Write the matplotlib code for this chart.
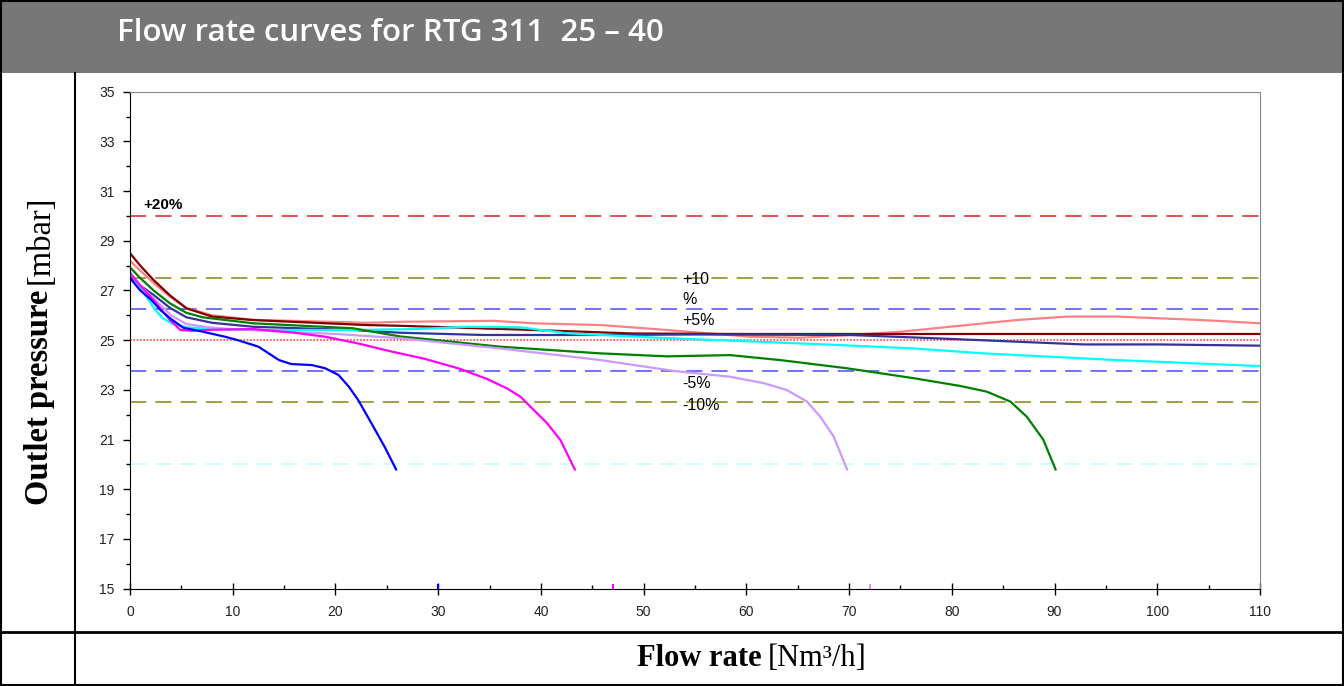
import matplotlib
matplotlib.use("Agg")
import matplotlib.pyplot as plt
from matplotlib.patches import Rectangle
from matplotlib.lines import Line2D
from matplotlib.ticker import MultipleLocator, FixedLocator

# curves (flow rate Nm3/h, outlet pressure mbar)
blue_x = [0, 1, 2, 3, 4, 5.2, 7, 9.25, 10.5, 12.5, 14.5, 15.7, 17.7, 19, 20.3, 21.3, 22.2, 23.5, 24.8, 25.9]
blue_y = [27.5, 27.0, 26.65, 26.2, 25.85, 25.5, 25.35, 25.14, 25.0, 24.74, 24.2, 24.04, 24.0, 23.87, 23.6,
          23.13, 22.6, 21.66, 20.7, 19.8]

magenta_x = [0, 1, 2.3, 3.2, 3.9, 4.9, 6, 8, 12, 16, 19, 22.2, 25.5, 28.7, 32.1, 34.7, 36.7, 38, 39.3,
             40.6, 41.9, 43.3]
magenta_y = [27.7, 27.2, 26.62, 26.15, 25.81, 25.41, 25.38, 25.42, 25.45, 25.3, 25.14, 24.87, 24.54, 24.25,
             23.85, 23.45, 23.06, 22.73, 22.19, 21.66, 20.98, 19.8]

lavender_x = [0, 1, 2.5, 4, 5.5, 8, 12, 20, 26.3, 36, 45.8, 53, 58.4, 61.7, 63.9, 65.9, 67.2, 68.5, 69.8]
lavender_y = [27.7, 27.2, 26.6, 26.0, 25.65, 25.5, 25.4, 25.25, 25.08, 24.67, 24.2, 23.76, 23.53, 23.27,
              23.0, 22.53, 21.92, 21.12, 19.8]

green_x = [0, 1, 2.3, 3.9, 5.5, 7.1, 12, 21.7, 26.3, 28.7, 36, 45.8, 52.3, 56, 58.4, 63.3, 69.8, 76.3,
           80.8, 83.4, 85.7, 87.3, 88.9, 90.1]
green_y = [27.93, 27.5, 27.0, 26.48, 26.1, 25.92, 25.68, 25.48, 25.15, 25.05, 24.74, 24.47, 24.35, 24.38,
           24.4, 24.2, 23.87, 23.47, 23.16, 22.93, 22.53, 21.92, 21.0, 19.8]

darkred_x = [0, 1, 2.3, 3.9, 5.5, 8, 12, 23, 26.3, 39.3, 49, 60, 110]
darkred_y = [28.5, 28.0, 27.42, 26.8, 26.28, 25.95, 25.81, 25.61, 25.58, 25.41, 25.27, 25.25, 25.25]

salmon_x = [0, 1, 2.3, 3.9, 5.5, 8, 12, 23, 26.3, 35.4, 39.3, 45.8, 52.3, 55.5, 60.4, 65.2, 70, 75, 79.8,
            86.3, 91.2, 96.1, 102.6, 105.8, 110]
salmon_y = [28.2, 27.8, 27.3, 26.75, 26.3, 26.0, 25.82, 25.7, 25.74, 25.78, 25.68, 25.61, 25.41, 25.3,
            25.14, 25.1, 25.2, 25.34, 25.54, 25.81, 25.95, 25.95, 25.84, 25.78, 25.68]

navy_x = [0, 1, 2.3, 3.9, 5.5, 8, 12, 21.7, 26.3, 34.4, 45.8, 55, 70, 78.2, 86.3, 92.8, 100, 110]
navy_y = [27.56, 27.2, 26.82, 26.3, 25.92, 25.7, 25.54, 25.41, 25.3, 25.21, 25.21, 25.23, 25.21, 25.08,
          24.94, 24.83, 24.83, 24.78]

cyan_x = [0, 0.8, 1.6, 2.4, 3.2, 4.2, 5.5, 8, 12, 21.7, 28, 32.8, 38, 42.5, 52.3, 56.8, 66.5, 76.3, 83.1,
          96.1, 110]
cyan_y = [27.76, 27.2, 26.75, 26.25, 25.88, 25.65, 25.52, 25.45, 25.41, 25.41, 25.45, 25.54, 25.52, 25.28,
          25.08, 25.01, 24.85, 24.67, 24.47, 24.2, 23.96]

# nominal 25 mbar and tolerance bands
nominal = 25
band_levels = [30, 27.5, 26.25, 23.75, 22.5, 20]
band_labels = ['+20%', '+10', '%', '+5%', '-5%', '-10%']
label_y = [30.45, 27.46, 26.65, 25.81, 23.24, 22.39]

# small stray marks on the x axis
mark_x = [30, 47, 72]

W, H = 1344, 686
fig = plt.figure(figsize=(W / 100, H / 100), dpi=100)

# page frame
fig.patches.append(Rectangle((0, 1 - 73 / H), 1, 73 / H, transform=fig.transFigure,
                             facecolor='#777777', edgecolor='none', zorder=0))
fig.patches.append(Rectangle((1 / W, 1 / H), 1 - 2 / W, 1 - 2 / H, transform=fig.transFigure,
                             fill=False, edgecolor='black', lw=1.5, zorder=5))
fig.lines.append(Line2D([75 / W, 75 / W], [0, 1 - 73 / H], transform=fig.transFigure, color='black', lw=1.5))
fig.lines.append(Line2D([0, 1], [1 - 632 / H, 1 - 632 / H], transform=fig.transFigure, color='black', lw=2))

fig.text(117 / W, 1 - 33 / H, 'Flow rate curves for RTG 311  25 \u2013 40', color='white',
         fontsize=22.5, family='Open Sans', weight='semibold', va='center', ha='left')

ax = fig.add_axes([130 / W, 1 - 588.7 / H, 1130 / W, (588.7 - 91.7) / H])

ax.plot(salmon_x, salmon_y, color='#ff8080', lw=1.6)
ax.plot(darkred_x, darkred_y, color='#800000', lw=1.6)
ax.plot(navy_x, navy_y, color='#333399', lw=1.6)
ax.plot(cyan_x, cyan_y, color='#00ffff', lw=1.6)
ax.plot(green_x, green_y, color='#008000', lw=1.6)
ax.plot(lavender_x, lavender_y, color='#cc99ff', lw=1.6)
ax.plot(magenta_x, magenta_y, color='#ff00ff', lw=1.6)
ax.plot(blue_x, blue_y, color='#0000ff', lw=1.6)

band_colors = ['#dd4444', '#999933', '#6666ff', '#6666ff', '#999933', '#ccffff']
for lev, col in zip(band_levels, band_colors):
    ax.axhline(lev, color=col, lw=1.3, dashes=(9, 5), zorder=1)
ax.axhline(nominal, color='#ff4040', lw=1.2, ls=(0, (1, 1)), zorder=1)

ax.text(1.3, label_y[0], band_labels[0], fontsize=11, weight='bold', family='Liberation Sans', va='center')
for lab, ly in zip(band_labels[1:], label_y[1:]):
    ax.text(53.8, ly, lab, fontsize=11.5, family='Liberation Sans', va='center')

for mx, mc in zip(mark_x, ['#0000ff', '#ff00ff', '#cc99ff']):
    ax.plot([mx, mx], [15, 15.15], color=mc, lw=1.5, clip_on=False)

ax.set_xlim(0, 110)
ax.set_ylim(15, 35)
ax.xaxis.set_major_locator(MultipleLocator(10))
ax.xaxis.set_minor_locator(MultipleLocator(5))
ax.yaxis.set_major_locator(FixedLocator(list(range(15, 36, 2))))
ax.yaxis.set_minor_locator(MultipleLocator(1))
ax.tick_params(axis='x', which='major', direction='inout', length=8, width=1, pad=8)
ax.tick_params(axis='x', which='minor', direction='in', length=3, width=1)
ax.tick_params(axis='y', which='major', direction='out', length=5, width=1, pad=6)
ax.tick_params(axis='y', which='minor', direction='out', length=3, width=1)
for lab in ax.get_xticklabels() + ax.get_yticklabels():
    lab.set_family('Liberation Sans')
    lab.set_fontsize(10)
    lab.set_color('#222222')
ax.spines['top'].set_color('#888888')
ax.spines['right'].set_color('#888888')

# axis titles built from a bold and a regular part
fig.canvas.draw()
rend = fig.canvas.get_renderer()
yl1 = fig.text(40 / W, 1 - 505 / H, 'Outlet pressure', rotation=90, family='Liberation Serif',
               weight='bold', fontsize=23.5, ha='center', va='bottom')
bb = yl1.get_window_extent(rend)
fig.text(40 / W, (bb.y1 + 6) / H, '[mbar]', rotation=90, family='Liberation Serif',
         fontsize=23.5, ha='center', va='bottom')

xl1 = fig.text(637 / W, 1 - 666 / H, 'Flow rate', family='Liberation Serif', weight='bold', fontsize=22,
               ha='left', va='baseline')
bb = xl1.get_window_extent(rend)
fig.text((bb.x1 + 6) / W, 1 - 666 / H, '[Nm\u00b3/h]', family='Liberation Serif', fontsize=22,
         ha='left', va='baseline')

fig.savefig('out.png', dpi=100)
